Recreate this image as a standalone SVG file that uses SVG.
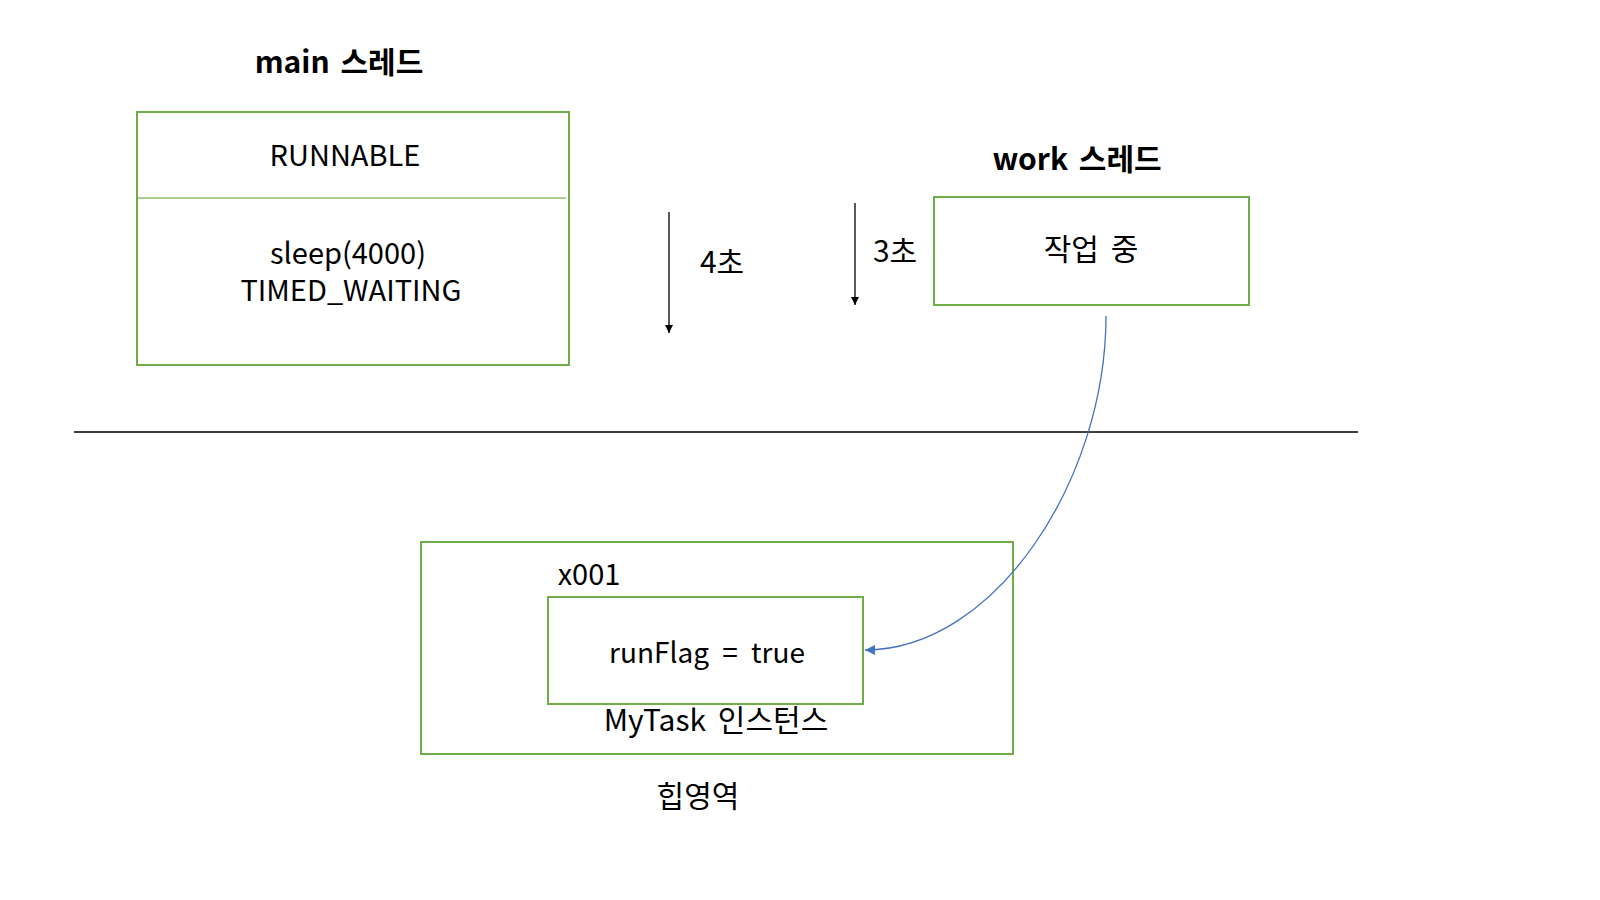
<svg xmlns="http://www.w3.org/2000/svg" width="1600" height="900" viewBox="0 0 1600 900">
<defs>
<style>
.t{font-family:"Noto Sans CJK KR","Noto Sans",sans-serif;fill:#000;text-anchor:middle}
.b{font-weight:bold;font-size:30px;word-spacing:4px}
.n{font-size:29px}
.k{font-size:30px;word-spacing:5px}
.box{fill:#fff;stroke:#70AD47;stroke-width:2}
.ln{stroke:#000;stroke-width:1.3;fill:none}
</style>
<marker id="ah" viewBox="0 0 10 10" refX="10" refY="5" markerWidth="8" markerHeight="8" markerUnits="userSpaceOnUse" orient="auto"><path d="M0,0 L10,5 L0,10 z" fill="#000"/></marker>
<marker id="ahb" viewBox="0 0 10 10" refX="10" refY="5" markerWidth="10" markerHeight="10" markerUnits="userSpaceOnUse" orient="auto"><path d="M0,0 L10,5 L0,10 z" fill="#4472C4"/></marker>
</defs>
<rect width="1600" height="900" fill="#fff"/>
<text class="t b" x="339" y="73">main 스레드</text>
<g id="main-thread">
<rect class="box" x="137" y="112" width="432" height="253"/>
<line x1="138" y1="198" x2="566" y2="198" stroke="#A9D18E" stroke-width="2"/>
<text class="t n" x="345" y="166">RUNNABLE</text>
<text class="t n"><tspan x="348" y="264">sleep(4000)</tspan><tspan x="351" y="301">TIMED_WAITING</tspan></text>
</g>
<text class="t b" x="1077" y="170">work 스레드</text>
<g id="work-thread">
<rect class="box" x="934" y="197" width="315" height="108"/>
<text class="t k" x="1091" y="260">작업 중</text>
</g>
<g id="heap">
<rect class="box" x="421" y="542" width="592" height="212"/>
<text class="t n" x="589" y="585">x001</text>
<text class="t k" x="716" y="731">MyTask 인스턴스</text>
<text class="t k" x="698" y="807">힙영역</text>
</g>
<g id="instance">
<rect class="box" x="548" y="597" width="315" height="107"/>
<text class="t" x="707" y="663" style="font-size:28px;word-spacing:7px">runFlag = true</text>
</g>
<g id="connectors">
<line class="ln" x1="74" y1="432" x2="1358" y2="432" stroke-width="1.2"/>
<line class="ln" x1="669" y1="212" x2="669" y2="333" marker-end="url(#ah)"/>
<text class="t k" x="722" y="273">4초</text>
<line class="ln" x1="855" y1="203" x2="855" y2="305" marker-end="url(#ah)"/>
<text class="t k" x="895" y="262">3초</text>
<path d="M1106,316 C1106,480 995,650 865,650" fill="none" stroke="#4472C4" stroke-width="1.3" marker-end="url(#ahb)"/>
</g>
</svg>
